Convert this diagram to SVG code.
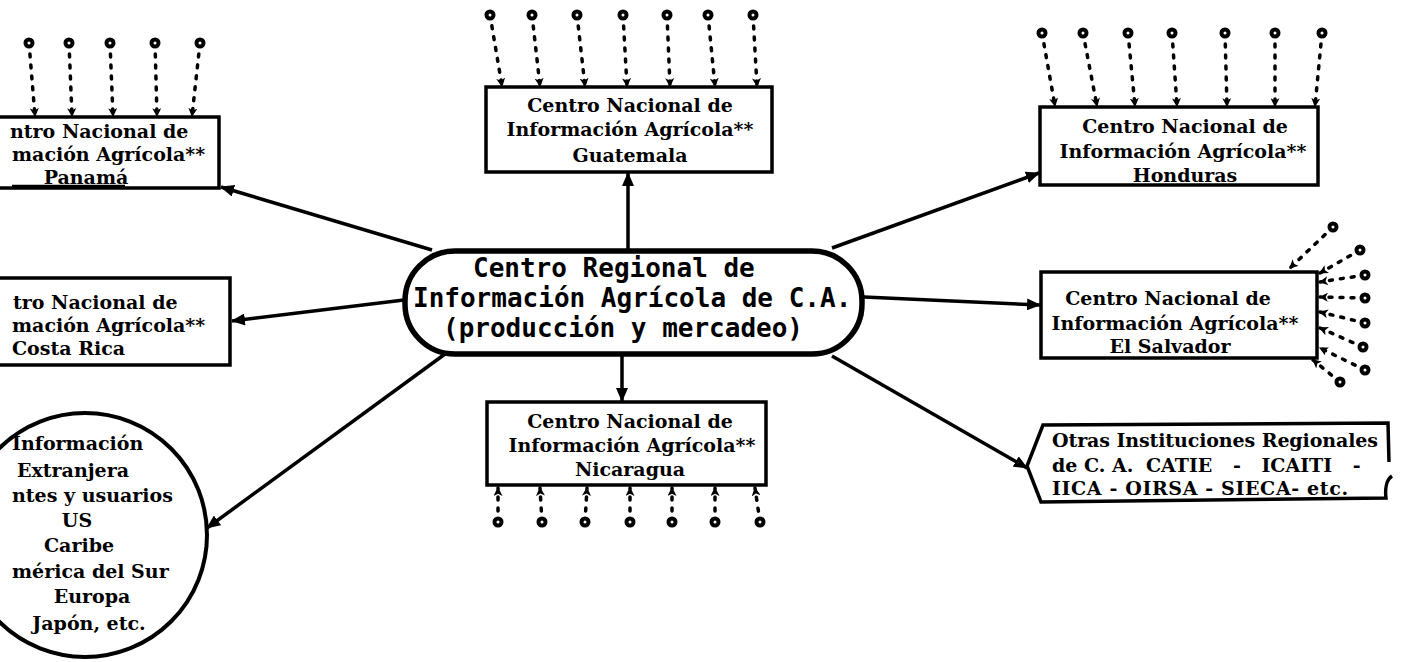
<svg xmlns="http://www.w3.org/2000/svg" width="1407" height="662" viewBox="0 0 1407 662">
<style>
.box{fill:#fff;stroke:#000;stroke-width:3.5}
.pill{fill:#fff;stroke:#000;stroke-width:5.5}
.circ{fill:#fff;stroke:#000;stroke-width:4}
.t{font-family:"DejaVu Serif","Liberation Serif",serif;font-weight:bold;font-size:19px;fill:#000}
.c{text-anchor:middle}
.m{font-family:"DejaVu Sans Mono","Liberation Mono",monospace;font-weight:bold;font-size:26px;fill:#000}
.arr{stroke:#000;stroke-width:3.5;fill:none;marker-end:url(#ma)}
.pin{stroke:#000;stroke-width:3.5;stroke-dasharray:3 8;stroke-linecap:round;fill:none;marker-end:url(#pa)}
.head{fill:#fff;stroke:#000;stroke-width:4}
.ul{stroke:#000;stroke-width:2.5}
</style>
<defs>
<marker id="ma" viewBox="0 0 14 12" refX="13" refY="6" markerWidth="14" markerHeight="12" markerUnits="userSpaceOnUse" orient="auto"><path d="M0,0 L14,6 L0,12 Z" fill="#000"/></marker>
<marker id="pa" viewBox="0 0 8 8" refX="7" refY="4" markerWidth="9" markerHeight="9" markerUnits="userSpaceOnUse" orient="auto"><path d="M0,0 L8,4 L0,8 L2,4 Z" fill="#000"/></marker>
</defs>
<rect width="1407" height="662" fill="#fff"/>

<g id="connectors">
<line class="arr" x1="432" y1="250" x2="221" y2="187"/>
<line class="arr" x1="628" y1="250" x2="628" y2="173"/>
<line class="arr" x1="832" y1="248" x2="1039" y2="173"/>
<line class="arr" x1="404" y1="300" x2="232" y2="321"/>
<line class="arr" x1="864" y1="297" x2="1040" y2="305"/>
<line class="arr" x1="622" y1="355" x2="622" y2="401"/>
<line class="arr" x1="445" y1="354" x2="207" y2="528"/>
<line class="arr" x1="832" y1="356" x2="1027" y2="468"/>
</g>

<g id="pin-connectors">
<g id="pins-panama">
<line class="pin" x1="29" y1="43" x2="35" y2="116"/>
<line class="pin" x1="69" y1="43" x2="72" y2="116"/>
<line class="pin" x1="110" y1="43" x2="113" y2="116"/>
<line class="pin" x1="155" y1="43" x2="157" y2="116"/>
<line class="pin" x1="200" y1="43" x2="192" y2="116"/>
<circle class="head" cx="29" cy="43" r="3.5"/><circle class="head" cx="69" cy="43" r="3.5"/><circle class="head" cx="110" cy="43" r="3.5"/><circle class="head" cx="155" cy="43" r="3.5"/><circle class="head" cx="200" cy="43" r="3.5"/>
</g>
<g id="pins-guatemala">
<line class="pin" x1="490" y1="15" x2="502" y2="86"/>
<line class="pin" x1="532" y1="15" x2="540" y2="86"/>
<line class="pin" x1="577" y1="15" x2="585" y2="86"/>
<line class="pin" x1="623" y1="15" x2="627" y2="86"/>
<line class="pin" x1="667" y1="15" x2="670" y2="86"/>
<line class="pin" x1="708" y1="15" x2="715" y2="86"/>
<line class="pin" x1="753" y1="15" x2="757" y2="86"/>
<circle class="head" cx="490" cy="15" r="3.5"/><circle class="head" cx="532" cy="15" r="3.5"/><circle class="head" cx="577" cy="15" r="3.5"/><circle class="head" cx="623" cy="15" r="3.5"/><circle class="head" cx="667" cy="15" r="3.5"/><circle class="head" cx="708" cy="15" r="3.5"/><circle class="head" cx="753" cy="15" r="3.5"/>
</g>
<g id="pins-honduras">
<line class="pin" x1="1042" y1="33" x2="1055" y2="106"/>
<line class="pin" x1="1083" y1="33" x2="1097" y2="106"/>
<line class="pin" x1="1128" y1="33" x2="1135" y2="106"/>
<line class="pin" x1="1172" y1="33" x2="1177" y2="106"/>
<line class="pin" x1="1225" y1="33" x2="1227" y2="106"/>
<line class="pin" x1="1275" y1="33" x2="1275" y2="106"/>
<line class="pin" x1="1322" y1="33" x2="1315" y2="106"/>
<circle class="head" cx="1042" cy="33" r="3.5"/><circle class="head" cx="1083" cy="33" r="3.5"/><circle class="head" cx="1128" cy="33" r="3.5"/><circle class="head" cx="1172" cy="33" r="3.5"/><circle class="head" cx="1225" cy="33" r="3.5"/><circle class="head" cx="1275" cy="33" r="3.5"/><circle class="head" cx="1322" cy="33" r="3.5"/>
</g>
<g id="pins-elsalvador">
<line class="pin" x1="1333" y1="227" x2="1290" y2="268"/>
<line class="pin" x1="1360" y1="250" x2="1320" y2="273"/>
<line class="pin" x1="1365" y1="275" x2="1320" y2="282"/>
<line class="pin" x1="1365" y1="298" x2="1320" y2="297"/>
<line class="pin" x1="1365" y1="323" x2="1320" y2="312"/>
<line class="pin" x1="1363" y1="347" x2="1320" y2="328"/>
<line class="pin" x1="1365" y1="370" x2="1320" y2="348"/>
<line class="pin" x1="1340" y1="382" x2="1313" y2="360"/>
<circle class="head" cx="1333" cy="227" r="3.5"/><circle class="head" cx="1360" cy="250" r="3.5"/><circle class="head" cx="1365" cy="275" r="3.5"/><circle class="head" cx="1365" cy="298" r="3.5"/><circle class="head" cx="1365" cy="323" r="3.5"/><circle class="head" cx="1363" cy="347" r="3.5"/><circle class="head" cx="1365" cy="370" r="3.5"/><circle class="head" cx="1340" cy="382" r="3.5"/>
</g>
<g id="pins-nicaragua">
<line class="pin" x1="498" y1="522" x2="498" y2="488"/>
<line class="pin" x1="542" y1="522" x2="540" y2="488"/>
<line class="pin" x1="585" y1="522" x2="587" y2="488"/>
<line class="pin" x1="630" y1="522" x2="630" y2="488"/>
<line class="pin" x1="672" y1="522" x2="672" y2="488"/>
<line class="pin" x1="715" y1="522" x2="715" y2="488"/>
<line class="pin" x1="760" y1="522" x2="755" y2="488"/>
<circle class="head" cx="498" cy="522" r="3.5"/><circle class="head" cx="542" cy="522" r="3.5"/><circle class="head" cx="585" cy="522" r="3.5"/><circle class="head" cx="630" cy="522" r="3.5"/><circle class="head" cx="672" cy="522" r="3.5"/><circle class="head" cx="715" cy="522" r="3.5"/><circle class="head" cx="760" cy="522" r="3.5"/>
</g>
</g>

<g id="centro-regional">
<rect class="pill" x="405" y="251" width="457" height="103" rx="50"/>
<text class="m" x="473" y="277">Centro Regional de</text>
<text class="m" x="413" y="307">Información Agrícola de C.A.</text>
<text class="m" x="443" y="337">(producción y mercadeo)</text>
</g>

<g id="panama">
<rect class="box" x="-10" y="117" width="229" height="71"/>
<text class="t" x="10" y="138">ntro Nacional de</text>
<text class="t" x="12" y="161">mación Agrícola**</text>
<text class="t c" x="86" y="184">Panamá</text>
<line class="ul" x1="12" y1="186" x2="125" y2="186"/>
</g>

<g id="guatemala">
<rect class="box" x="486" y="87" width="286" height="85"/>
<text class="t c" x="630" y="112">Centro Nacional de</text>
<text class="t c" x="630" y="136">Información Agrícola**</text>
<text class="t c" x="630" y="162">Guatemala</text>
</g>

<g id="honduras">
<rect class="box" x="1040" y="107" width="278" height="78"/>
<text class="t c" x="1185" y="133">Centro Nacional de</text>
<text class="t c" x="1183" y="158">Información Agrícola**</text>
<text class="t c" x="1185" y="182">Honduras</text>
</g>

<g id="costa-rica">
<rect class="box" x="-10" y="278" width="240" height="87"/>
<text class="t" x="13" y="309">tro Nacional de</text>
<text class="t" x="12" y="332">mación Agrícola**</text>
<text class="t" x="12" y="355">Costa Rica</text>
</g>

<g id="el-salvador">
<rect class="box" x="1041" y="272" width="276" height="86"/>
<text class="t c" x="1168" y="305">Centro Nacional de</text>
<text class="t c" x="1175" y="330">Información Agrícola**</text>
<text class="t c" x="1170" y="353">El Salvador</text>
</g>

<g id="nicaragua">
<rect class="box" x="487" y="402" width="279" height="83"/>
<text class="t c" x="630" y="428">Centro Nacional de</text>
<text class="t c" x="632" y="452">Información Agrícola**</text>
<text class="t c" x="630" y="476">Nicaragua</text>
</g>

<g id="informacion-extranjera">
<circle class="circ" cx="85" cy="535" r="122"/>
<text class="t" x="12" y="450">Información</text>
<text class="t c" x="73" y="477">Extranjera</text>
<text class="t" x="12" y="502">ntes y usuarios</text>
<text class="t c" x="77" y="527">US</text>
<text class="t c" x="79" y="552">Caribe</text>
<text class="t" x="12" y="578">mérica del Sur</text>
<text class="t c" x="92" y="603">Europa</text>
<text class="t c" x="89" y="630">Japón, etc.</text>
</g>

<g id="otras-instituciones">
<path class="box" d="M1389,462 L1388,423 L1043,425 L1027,466 L1041,502 L1386,498 C1385,490 1386,480 1392,476" fill="#fff"/>
<text class="t" x="1052" y="447" textLength="326" lengthAdjust="spacing">Otras Instituciones Regionales</text>
<text class="t" x="1052" y="472">de C. A.</text>
<text class="t" x="1146" y="472" style="word-spacing:14px">CATIE - ICAITI -</text>
<text class="t" x="1052" y="495" textLength="296" lengthAdjust="spacing">IICA - OIRSA - SIECA- etc.</text>
</g>
</svg>
